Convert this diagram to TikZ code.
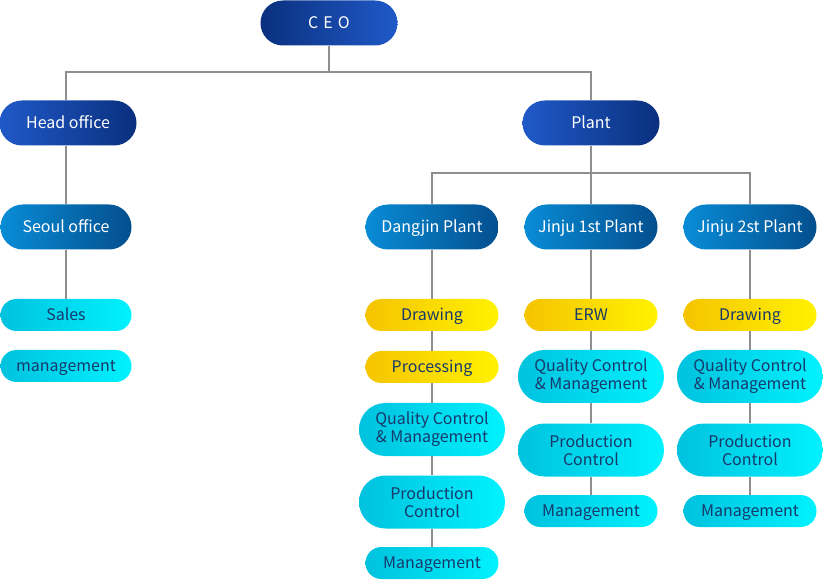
\documentclass[tikz,border=0pt]{standalone}
\usepackage{fontspec}
\setmainfont{Noto Sans CJK KR}
\usetikzlibrary{positioning}
\definecolor{navytext}{HTML}{17396B}
\definecolor{linegray}{HTML}{8E8E8E}
\definecolor{royalL}{HTML}{2059C8}
\definecolor{royalD}{HTML}{0A307E}
\definecolor{plantL}{HTML}{088CD6}
\definecolor{plantD}{HTML}{044F8E}
\definecolor{cyanL}{HTML}{00C2DE}
\definecolor{cyanR}{HTML}{00F2FF}
\definecolor{goldL}{HTML}{F5C400}
\definecolor{goldR}{HTML}{FFF200}

\begin{document}
\begin{tikzpicture}[x=1pt,y=-1pt,
    every node/.style={font=\fontsize{16}{18}\selectfont},
    pill/.style={rectangle,inner sep=0pt,align=center,text height=12pt,text depth=0.5pt,minimum width=133pt,minimum height=32pt,rounded corners=15.9pt,text=navytext},
    topbox/.style={pill,minimum width=137pt,minimum height=45pt,rounded corners=22.4pt,text=white,left color=royalL,right color=royalD},
    sitebox/.style={pill,minimum width=133pt,minimum height=45pt,rounded corners=22.4pt,text=white,left color=plantL,right color=plantD},
    taskbox/.style={pill,left color=cyanL,right color=cyanR},
    bigtask/.style={taskbox,text height={},text depth={},minimum width=146pt,minimum height=53pt,rounded corners=26.4pt},
    shopbox/.style={pill,left color=goldL,right color=goldR},
    link/.style={draw=linegray,line width=2pt}]
    \useasboundingbox (0,0) rectangle (823,580);
    % top levels
    \node[topbox,left color=royalD,right color=royalL] (ceo) at (329,23) {C\hspace{5pt}E\hspace{5pt}O};
    \node[topbox] (head) at (68,123) {Head office};
    \node[topbox] (plant) at (591,123) {Plant};
    \node[sitebox,minimum width=131pt] (seoul) at (66,227) {Seoul office};
    \node[sitebox] (dangjin) at (432,227) {Dangjin Plant};
    \node[sitebox] (jinjuA) at (591,227) {Jinju 1st Plant};
    \node[sitebox] (jinjuB) at (750,227) {Jinju 2st Plant};
    % head office side
    \node[taskbox,minimum width=131pt] (sales) at (66,315) {Sales};
    \node[taskbox,minimum width=131pt] (seoulmgmt) at (66,366) {management};
    % Dangjin column
    \node[shopbox] (dDraw) at (432,315) {Drawing};
    \node[shopbox] (dProc) at (432,367) {Processing};
    \node[bigtask] (dQual) at (432,429.5) {Quality Control\\\& Management};
    \node[bigtask] (dProd) at (432,502) {Production\\Control};
    \node[taskbox] (dMgmt) at (432,563) {Management};
    % Jinju 1st column
    \node[shopbox] (aErw) at (591,315) {ERW};
    \node[bigtask] (aQual) at (591,376.5) {Quality Control\\\& Management};
    \node[bigtask] (aProd) at (591,450) {Production\\Control};
    \node[taskbox] (aMgmt) at (591,511) {Management};
    % Jinju 2st column
    \node[shopbox] (bDraw) at (750,315) {Drawing};
    \node[bigtask] (bQual) at (750,376.5) {Quality Control\\\& Management};
    \node[bigtask] (bProd) at (750,450) {Production\\Control};
    \node[taskbox] (bMgmt) at (750,511) {Management};
    % connectors
    \coordinate (ceobus) at (329,72);
    \coordinate (plantbus) at (591,173);
    \draw[link] (ceo.south) -- (ceobus);
    \draw[link] (seoul |- head.north) |- (ceobus) -| (plant.north);
    \draw[link] (plant.south) -- (plantbus);
    \draw[link] (dangjin.north) |- (plantbus) -| (jinjuB.north);
    \draw[link] (plantbus) -- (jinjuA.north);
    \draw[link] (seoul |- head.south) -- (seoul.north);
    \draw[link] (seoul) -- (sales);
    \draw[link] (dangjin) -- (dDraw);
    \draw[link] (dDraw) -- (dProc);
    \draw[link] (dProc) -- (dQual);
    \draw[link] (dQual) -- (dProd);
    \draw[link] (dProd) -- (dMgmt);
    \draw[link] (jinjuA) -- (aErw);
    \draw[link] (aErw) -- (aQual);
    \draw[link] (aQual) -- (aProd);
    \draw[link] (aProd) -- (aMgmt);
    \draw[link] (jinjuB) -- (bDraw);
    \draw[link] (bDraw) -- (bQual);
    \draw[link] (bQual) -- (bProd);
    \draw[link] (bProd) -- (bMgmt);
\end{tikzpicture}
\end{document}
